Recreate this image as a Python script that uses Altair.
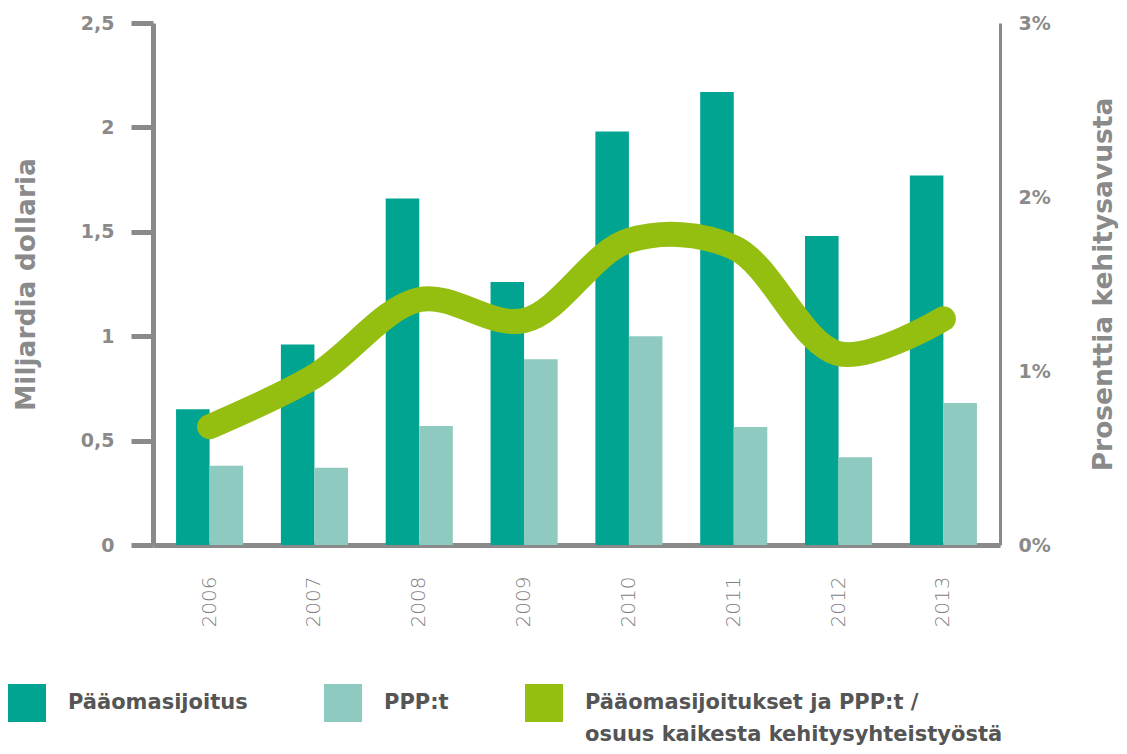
import altair as alt
import pandas as pd

years = ["2006", "2007", "2008", "2009", "2010", "2011", "2012", "2013"]
paaomasijoitus = [0.65, 0.96, 1.66, 1.26, 1.98, 2.17, 1.48, 1.77]
ppp = [0.38, 0.37, 0.57, 0.89, 1.00, 0.565, 0.42, 0.68]
osuus = [0.68, 0.97, 1.41, 1.29, 1.75, 1.71, 1.10, 1.30]

S1 = "Pääomasijoitus"
S2 = "PPP:t"
S3 = "Pääomasijoitukset ja PPP:t / osuus kaikesta kehitysyhteistyöstä"
S3_LINES = ["Pääomasijoitukset ja PPP:t /", "osuus kaikesta kehitysyhteistyöstä"]
colors = ["#00A491", "#8ECABF", "#95BF10"]
GRAY = "#8A8A8A"
FONT = "DejaVu Sans"

bars_df = pd.DataFrame({
    "year": years * 2,
    "series": [S1] * len(years) + [S2] * len(years),
    "value": paaomasijoitus + ppp,
})
line_df = pd.DataFrame({"year": years, "osuus": osuus})

x_axis = alt.Axis(
    labelAngle=270, ticks=False, domainWidth=5, domainColor=GRAY,
    labelFont=FONT, labelFontWeight=200, labelFontSize=20,
    labelColor="#808080", labelPadding=31, grid=False,
)
xenc = alt.X("year:N", title=None,
             scale=alt.Scale(paddingInner=0.36, paddingOuter=0.22),
             axis=x_axis)

legend = alt.Legend(
    title=None, orient="none", legendX=-145, legendY=661, padding=0,
    direction="horizontal", columns=3,
    symbolType="square", symbolSize=1444, symbolStrokeWidth=0, symbolOpacity=1,
    labelFont=FONT, labelFontSize=21, labelFontWeight="bold",
    labelColor="#555555", labelOffset=22, columnPadding=76, labelLimit=700,
    labelExpr=("datum.label == '" + S3 + "' ? ['" + S3_LINES[0] + "', '"
               + S3_LINES[1] + "'] : [datum.label, ' ']"),
)

bars = alt.Chart(bars_df).mark_bar().encode(
    x=xenc,
    xOffset=alt.XOffset("series:N", sort=[S1, S2],
                        scale=alt.Scale(paddingInner=0, paddingOuter=0)),
    y=alt.Y("value:Q",
            scale=alt.Scale(domain=[0, 2.5], nice=False),
            axis=alt.Axis(
                values=[0, 0.5, 1, 1.5, 2, 2.5], format="~g",
                labelExpr="replace(datum.label, '.', ',')",
                title="Miljardia dollaria", grid=False,
                domainWidth=5, domainColor=GRAY,
                tickSize=22, tickWidth=5, tickColor=GRAY,
                labelFont=FONT, labelFontSize=19, labelFontWeight="bold",
                labelColor=GRAY, labelPadding=17,
                titleFont=FONT, titleFontSize=26.5, titleFontWeight="bold",
                titleColor=GRAY, titlePadding=40,
            )),
    color=alt.Color("series:N",
                    scale=alt.Scale(domain=[S1, S2, S3], range=colors),
                    legend=legend),
)

line = alt.Chart(line_df).mark_line(
    interpolate="catmull-rom", strokeWidth=25, strokeCap="round",
    color="#95BF10",
).encode(
    x=xenc,
    y=alt.Y("osuus:Q",
            scale=alt.Scale(domain=[0, 3], nice=False),
            axis=alt.Axis(
                orient="right", values=[0, 1, 2, 3],
                labelExpr="datum.value + '%'",
                title="Prosenttia kehitysavusta", grid=False,
                domainWidth=3, domainColor=GRAY, ticks=False,
                labelFont=FONT, labelFontSize=19, labelFontWeight="bold",
                labelColor=GRAY, labelPadding=18, labelAlign="left",
                titleFont=FONT, titleFontSize=26.5, titleFontWeight="bold",
                titleColor=GRAY, titlePadding=67, titleAngle=270,
            )),
)

chart = alt.layer(bars, line).resolve_scale(y="independent").properties(
    width=847, height=522,
    autosize=alt.AutoSizeParams(type="none"),
    padding={"left": 145, "top": 15, "right": 119, "bottom": 201},
).configure(
    style={"guide-label": {"lineHeight": 32}}
).configure_view(stroke=None)

chart.save("out.html", embed_options={"renderer": "svg", "actions": False})
